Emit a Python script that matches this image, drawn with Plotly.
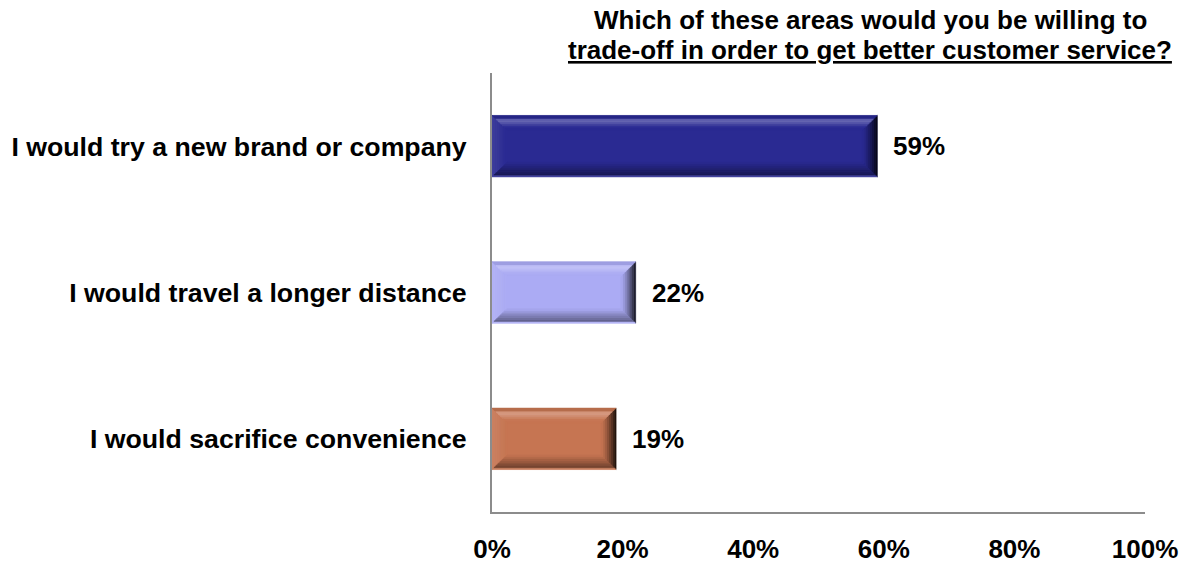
import plotly.graph_objects as go

# Survey answers and their shares (%)
categories = [
    "I would try a new brand or company",
    "I would travel a longer distance",
    "I would sacrifice convenience",
]
values = [59, 22, 19]
bar_colors = ["#2A2A92", "#ABABF4", "#C67552"]
x_ticks = [0, 20, 40, 60, 80, 100]
x_tick_labels = ["0%", "20%", "40%", "60%", "80%", "100%"]
title_line1 = "Which of these areas would you be willing to"
title_line2 = "trade-off in order to get better customer service?"

FONT = "Liberation Sans, Arial, sans-serif"
FONT_SIZE = 26
BAR_W = 0.42          # bar thickness in category units
BEVEL_X = 2.3         # bevel depth along the value axis (%)
BEVEL_Y = 0.10        # bevel depth along the category axis
STEPS = 8


def hex_rgb(h):
    h = h.lstrip("#")
    return tuple(int(h[i:i + 2], 16) for i in (0, 2, 4))


def mix(rgb, target, f):
    return tuple(round(c + (t - c) * f) for c, t in zip(rgb, target))


def shade(rgb, f):
    # f > 0 lightens, f < 0 darkens
    if f >= 0:
        return "rgb(%d,%d,%d)" % mix(rgb, (255, 255, 255), f)
    return "rgb(%d,%d,%d)" % mix(rgb, (0, 0, 0), -f)


def side_factor(side, t):
    # t runs from the outer edge (0) to the flat face (1)
    if side == "top":
        if t < 0.2:
            return -0.08
        return 0.30 * max(0.0, 1 - abs(t - 0.4) / 0.45)
    if side == "bottom":
        if t < 0.12:
            return 0.12
        return -0.45 * (1 - t) / 0.88
    if side == "right":
        return -0.9 * (1 - t) ** 1.3
    return 0.10 * (1 - t)


def bevel_shapes(v, yc, color):
    rgb = hex_rgb(color)
    x0, x1 = 0.0, float(v)
    y0, y1 = yc - BAR_W / 2, yc + BAR_W / 2
    shapes = []
    for k in range(STEPS):
        a, b = k / STEPS, (k + 1) / STEPS
        t = (a + b) / 2
        sides = {
            "top": [(x0 + a * BEVEL_X, y0 + a * BEVEL_Y), (x1 - a * BEVEL_X, y0 + a * BEVEL_Y),
                    (x1 - b * BEVEL_X, y0 + b * BEVEL_Y), (x0 + b * BEVEL_X, y0 + b * BEVEL_Y)],
            "bottom": [(x0 + a * BEVEL_X, y1 - a * BEVEL_Y), (x1 - a * BEVEL_X, y1 - a * BEVEL_Y),
                       (x1 - b * BEVEL_X, y1 - b * BEVEL_Y), (x0 + b * BEVEL_X, y1 - b * BEVEL_Y)],
            "left": [(x0 + a * BEVEL_X, y0 + a * BEVEL_Y), (x0 + b * BEVEL_X, y0 + b * BEVEL_Y),
                     (x0 + b * BEVEL_X, y1 - b * BEVEL_Y), (x0 + a * BEVEL_X, y1 - a * BEVEL_Y)],
            "right": [(x1 - a * BEVEL_X, y0 + a * BEVEL_Y), (x1 - b * BEVEL_X, y0 + b * BEVEL_Y),
                      (x1 - b * BEVEL_X, y1 - b * BEVEL_Y), (x1 - a * BEVEL_X, y1 - a * BEVEL_Y)],
        }
        for side in ("left", "right", "top", "bottom"):
            pts = sides[side]
            path = "M " + " L ".join(f"{px},{py}" for px, py in pts) + " Z"
            c = shade(rgb, side_factor(side, t))
            shapes.append(dict(type="path", path=path, xref="x", yref="y",
                               fillcolor=c, line=dict(width=0.6, color=c), layer="above"))
    return shapes


positions = list(range(len(categories)))

fig = go.Figure(go.Bar(
    x=values,
    y=positions,
    orientation="h",
    width=BAR_W,
    marker=dict(color=bar_colors, line=dict(width=0)),
    hoverinfo="skip",
))

shapes = []
for v, p, c in zip(values, positions, bar_colors):
    shapes += bevel_shapes(v, p, c)

annotations = [
    dict(x=v, y=p, xref="x", yref="y", text=f"<b>{v}%</b>", showarrow=False,
         xanchor="left", xshift=14, font=dict(size=FONT_SIZE, color="#000000", family=FONT))
    for v, p in zip(values, positions)
]
annotations += [
    dict(x=0.579, y=1.0, xref="paper", yref="paper", yshift=53, yanchor="middle",
         text=f"<b>{title_line1}</b>", showarrow=False,
         font=dict(size=FONT_SIZE, color="#000000", family=FONT)),
    dict(x=0.579, y=1.0, xref="paper", yref="paper", yshift=23, yanchor="middle",
         text=f"<b><u>{title_line2}</u></b>", showarrow=False,
         font=dict(size=FONT_SIZE, color="#000000", family=FONT)),
]

fig.update_layout(
    width=1180, height=565,
    margin=dict(l=492, r=35, t=73, b=53),
    paper_bgcolor="#FFFFFF", plot_bgcolor="#FFFFFF",
    showlegend=False,
    shapes=shapes,
    annotations=annotations,
    xaxis=dict(range=[0, 100], tickvals=x_ticks,
               ticktext=[f"<b>{t}</b>" for t in x_tick_labels],
               showgrid=False, zeroline=False, showline=True,
               linecolor="#8C8C8C", linewidth=2, ticks="",
               ticklabelstandoff=13, automargin=False,
               tickfont=dict(size=FONT_SIZE, color="#000000", family=FONT)),
    yaxis=dict(range=[2.5, -0.5], tickvals=positions,
               ticktext=[f"<b>{c}</b>" for c in categories],
               showgrid=False, zeroline=False, showline=True,
               linecolor="#8C8C8C", linewidth=2, ticks="",
               ticklabelstandoff=18, automargin=False,
               tickfont=dict(size=26.7, color="#000000", family=FONT)),
)

fig.write_html("out.html")
